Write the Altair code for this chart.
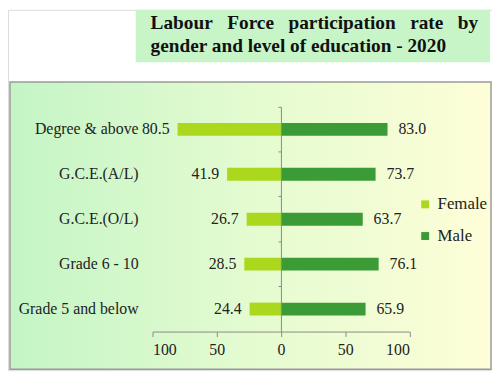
import altair as alt
import pandas as pd

categories = ["Degree & above", "G.C.E.(A/L)", "G.C.E.(O/L)", "Grade 6 - 10", "Grade 5 and below"]
female = [80.5, 41.9, 26.7, 28.5, 24.4]
male = [83.0, 73.7, 63.7, 76.1, 65.9]
genders = ["Female", "Male"]
x_ticks = [-100, -50, 0, 50, 100]
NB = "\u00a0\u00a0\u00a0"
title_line1 = NB.join(["Labour", "Force", "participation", "rate", "by"])
title_line2 = "gender and level of education - 2020"

rows = []
for c, f, m in zip(categories, female, male):
    rows.append({"cat": c, "gender": "Female", "signed": -f, "label": f"{f:.1f}"})
    rows.append({"cat": c, "gender": "Male", "signed": m, "label": f"{m:.1f}"})
df = pd.DataFrame(rows)
cat_df = pd.DataFrame({"cat": categories})

W, H = 489, 364
SERIF = "Liberation Serif"
TXT = "#222222"
AX = "#8a8a8a"

xscale = alt.Scale(domain=[-100, 100], range=[146, 405.5])
yscale = alt.Scale(domain=categories, range=[98, 325], paddingInner=0, paddingOuter=0)

one = pd.DataFrame({"k": [0]})

bg = alt.Chart(one).mark_rect(
    fill=alt.Gradient(
        gradient="linear",
        stops=[
            alt.GradientStop(color="#c4f5c6", offset=0),
            alt.GradientStop(color="#e4fbd0", offset=0.5),
            alt.GradientStop(color="#fefed8", offset=1),
        ],
        x1=0, x2=1, y1=0, y2=0,
    ),
    stroke="#9a9a9a",
    strokeWidth=1.5,
).encode(x=alt.value(2), x2=alt.value(488), y=alt.value(73), y2=alt.value(363))

tbox = alt.Chart(one).mark_rect(fill="#c8f5c8").encode(
    x=alt.value(129), x2=alt.value(487), y=alt.value(0), y2=alt.value(53)
)

t1 = alt.Chart(pd.DataFrame({"t": [title_line1]})).mark_text(
    align="left", baseline="alphabetic", font=SERIF, fontSize=19.5, fontWeight="bold", color="#111111"
).encode(x=alt.value(144), y=alt.value(19), text="t:N")

t2 = alt.Chart(pd.DataFrame({"t": [title_line2]})).mark_text(
    align="left", baseline="alphabetic", font=SERIF, fontSize=19.5, fontWeight="bold", color="#111111"
).encode(x=alt.value(144), y=alt.value(43), text="t:N")

bars = alt.Chart(df).mark_bar(size=13).encode(
    x=alt.X(
        "signed:Q",
        scale=xscale,
        stack=None,
        axis=alt.Axis(
            values=x_ticks, labelExpr="abs(datum.value)", title=None, grid=False,
            offset=-39, tickSize=5, domainColor=AX, tickColor=AX, zindex=2,
            labelFont=SERIF, labelFontSize=16, labelColor=TXT, labelPadding=5,
        ),
    ),
    y=alt.Y(
        "cat:N",
        scale=yscale,
        sort=categories,
        axis=alt.Axis(
            title=None, labels=False, offset=-275.75, bandPosition=0, tickSize=3,
            domainColor=AX, tickColor=AX, grid=False, zindex=2,
        ),
    ),
    color=alt.Color(
        "gender:N",
        scale=alt.Scale(domain=genders, range=["#abd81d", "#3a9b37"]),
        legend=alt.Legend(
            orient="none", legendX=413, legendY=188, title=None, symbolType="square",
            symbolSize=64, symbolStrokeWidth=0, labelFont=SERIF, labelFontSize=17,
            labelColor=TXT, rowPadding=14, labelOffset=4, zindex=2,
        ),
    ),
)

fem_text = alt.Chart(df).transform_filter("datum.gender == 'Female'").mark_text(
    align="right", dx=-8, font=SERIF, fontSize=16, color=TXT
).encode(
    x=alt.X("signed:Q", scale=xscale),
    y=alt.Y("cat:N", scale=yscale, sort=categories),
    text="label:N",
)

male_text = alt.Chart(df).transform_filter("datum.gender == 'Male'").mark_text(
    align="left", dx=11, font=SERIF, fontSize=16, color=TXT
).encode(
    x=alt.X("signed:Q", scale=xscale),
    y=alt.Y("cat:N", scale=yscale, sort=categories),
    text="label:N",
)

cat_text = alt.Chart(cat_df).mark_text(
    align="right", font=SERIF, fontSize=16, color=TXT
).encode(
    x=alt.value(132),
    y=alt.Y("cat:N", scale=yscale, sort=categories),
    text="cat:N",
)

chart = alt.layer(bg, tbox, t1, t2, bars, fem_text, male_text, cat_text).properties(
    width=W, height=H, autosize=alt.AutoSizeParams(type="none"), padding=0
).configure_view(stroke=None).configure(background="white")

chart.save("out.html", embed_options={"renderer": "svg", "actions": False})
